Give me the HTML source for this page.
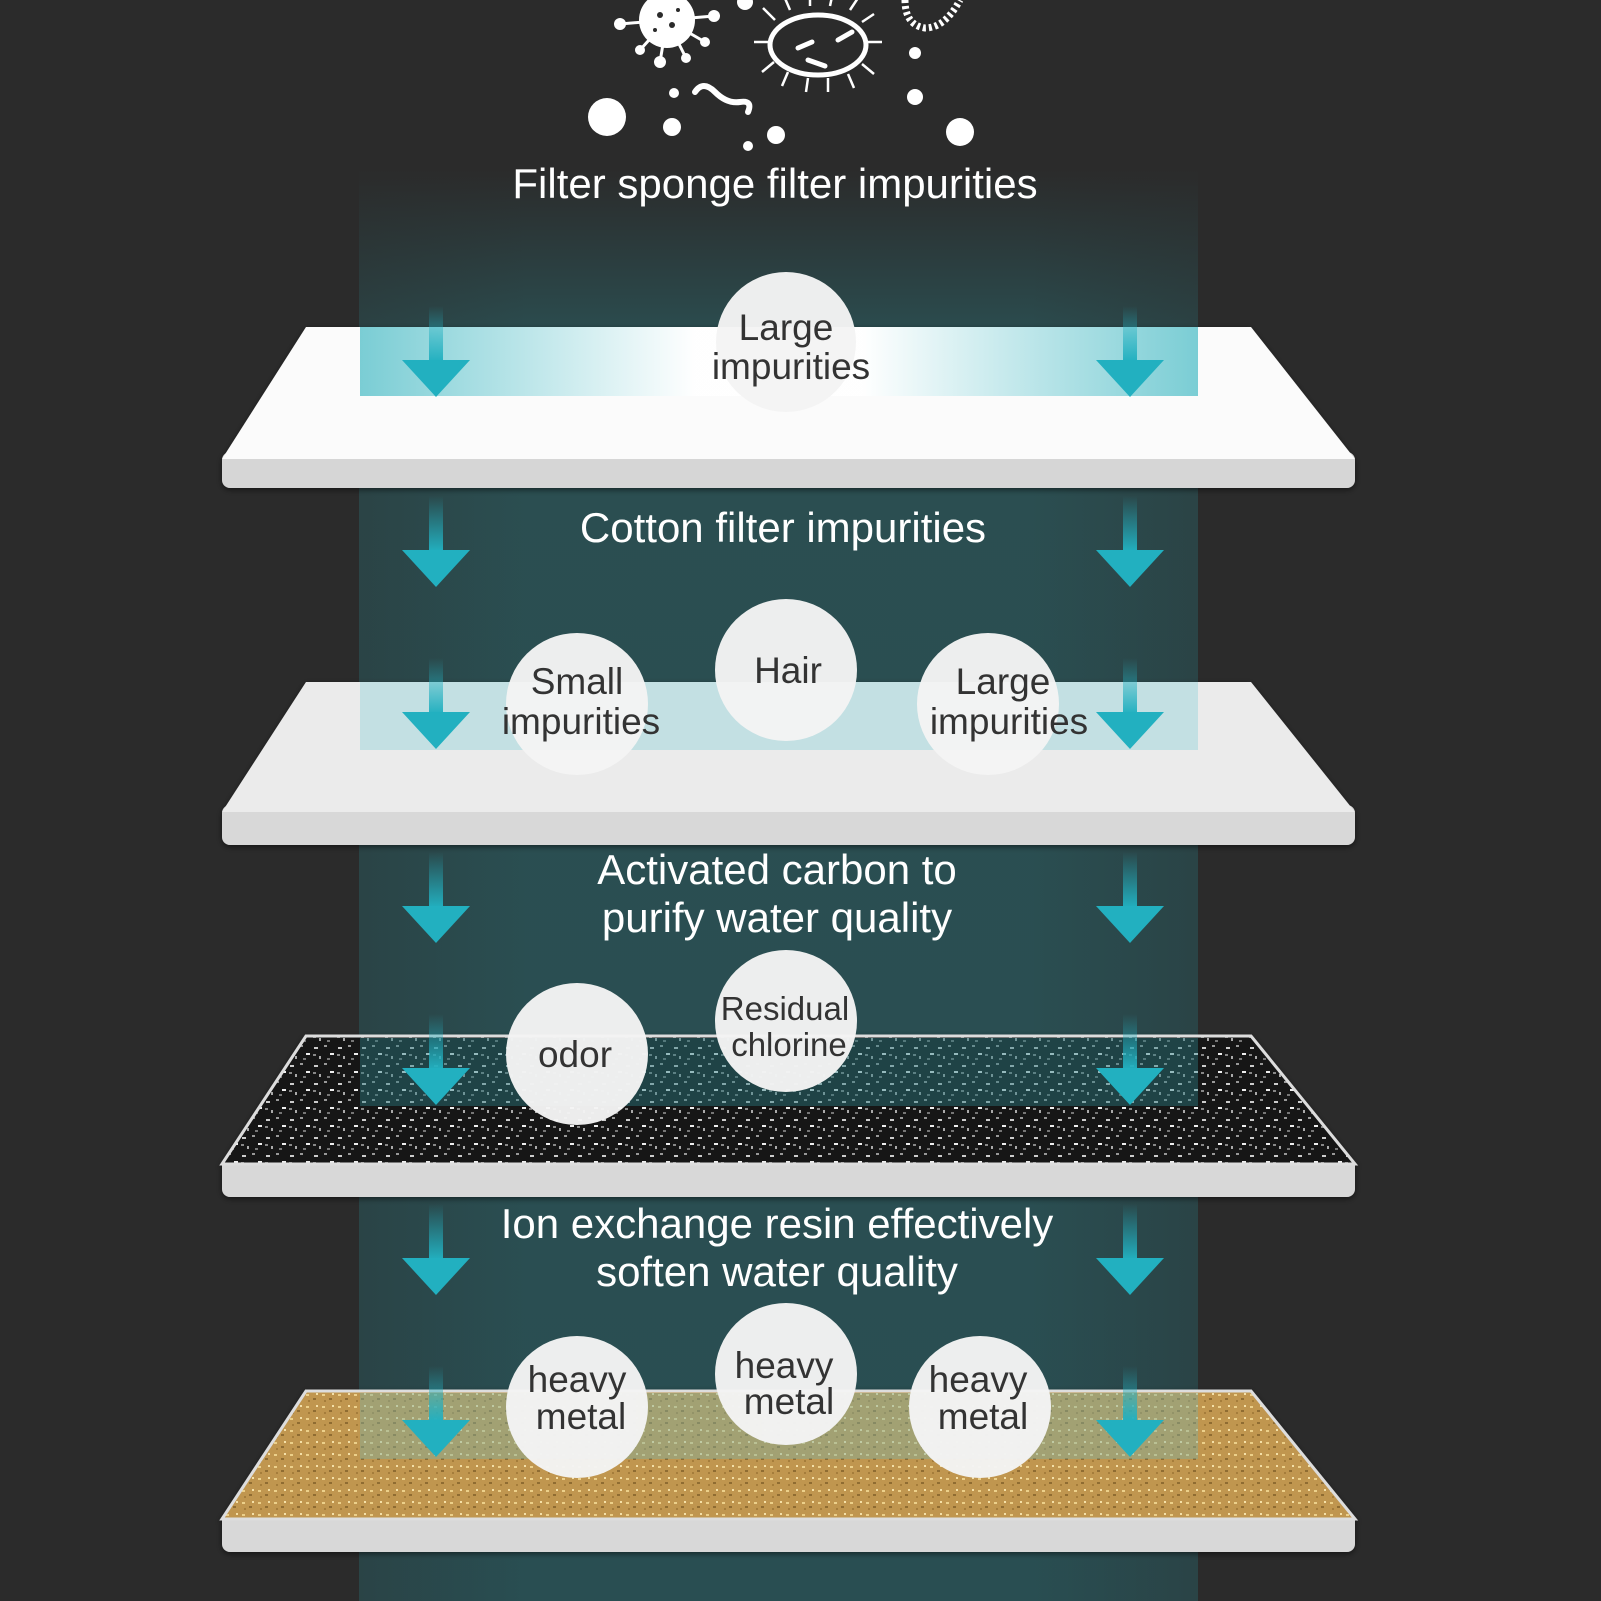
<!DOCTYPE html>
<html><head><meta charset="utf-8"><style>
html,body{margin:0;padding:0;background:#2b2b2b;}
svg{display:block}
text{font-family:"Liberation Sans",Arial,sans-serif}
</style></head><body>
<svg width="1601" height="1601" viewBox="0 0 1601 1601" xmlns="http://www.w3.org/2000/svg">
<defs>
<linearGradient id="col" x1="0" y1="0" x2="0" y2="1">
<stop offset="0" stop-color="#2b5255" stop-opacity="0"/>
<stop offset="0.12" stop-color="#2b5255" stop-opacity="0.9"/>
<stop offset="1" stop-color="#294e52" stop-opacity="1"/>
</linearGradient>
<linearGradient id="colh" x1="0" y1="0" x2="1" y2="0">
<stop offset="0" stop-color="#2b2b2b" stop-opacity="0.3"/>
<stop offset="0.2" stop-color="#2b2b2b" stop-opacity="0"/>
<stop offset="0.8" stop-color="#2b2b2b" stop-opacity="0"/>
<stop offset="1" stop-color="#2b2b2b" stop-opacity="0.3"/>
</linearGradient>
<linearGradient id="shaft" x1="0" y1="0" x2="0" y2="1">
<stop offset="0" stop-color="#22b0c0" stop-opacity="0"/>
<stop offset="1" stop-color="#22b0c0" stop-opacity="1"/>
</linearGradient>
<linearGradient id="glow" x1="0" y1="0" x2="1" y2="0">
<stop offset="0" stop-color="#6cc8d0"/>
<stop offset="0.4" stop-color="#ffffff"/>
<stop offset="0.6" stop-color="#ffffff"/>
<stop offset="1" stop-color="#6cc8d0"/>
</linearGradient>
<pattern id="carbon" width="24" height="18" patternUnits="userSpaceOnUse">
<rect width="24" height="18" fill="#151515"/>
<rect x="2" y="3" width="4" height="2" fill="#ccc"/>
<rect x="12" y="1" width="3" height="2" fill="#999"/>
<rect x="18" y="9" width="4" height="2" fill="#eee"/>
<rect x="7" y="12" width="2" height="3" fill="#aaa"/>
<rect x="15" y="14" width="3" height="2" fill="#777"/>
<rect x="1" y="10" width="3" height="2" fill="#888"/>
</pattern>
<pattern id="gold" width="16" height="12" patternUnits="userSpaceOnUse">
<rect width="16" height="12" fill="#c09650"/>
<rect x="2" y="2" width="3" height="2" fill="#ecd08a"/>
<rect x="9" y="6" width="3" height="2" fill="#8f6c30"/>
<rect x="12" y="1" width="2" height="2" fill="#f4e0a8"/>
<rect x="4" y="8" width="2" height="2" fill="#a57d3a"/>
</pattern>
<filter id="sh"><feDropShadow dx="0" dy="2" stdDeviation="3" flood-opacity="0.5"/></filter>
</defs>

<rect width="1601" height="1601" fill="#2b2b2b"/>

<g fill="#fff">
<circle cx="607" cy="117" r="19"/><circle cx="672" cy="127" r="9"/><circle cx="674" cy="93" r="5"/>
<circle cx="776" cy="135" r="9"/><circle cx="748" cy="146" r="5"/><circle cx="915" cy="53" r="6"/>
<circle cx="915" cy="97" r="8"/><circle cx="960" cy="132" r="14"/><circle cx="745" cy="2" r="8"/>
<circle cx="667" cy="20" r="28"/>
<g stroke="#fff" stroke-width="3">
<line x1="667" y1="20" x2="620" y2="24"/><line x1="667" y1="20" x2="714" y2="16"/>
<line x1="667" y1="20" x2="660" y2="62"/><line x1="667" y1="20" x2="686" y2="58"/>
<line x1="667" y1="20" x2="705" y2="42"/><line x1="667" y1="20" x2="640" y2="50"/>
</g>
<circle cx="620" cy="24" r="6"/><circle cx="714" cy="16" r="6"/><circle cx="660" cy="62" r="6"/>
<circle cx="686" cy="58" r="5"/><circle cx="705" cy="42" r="5"/><circle cx="640" cy="50" r="5"/>
</g>
<g fill="#2b2b2b"><circle cx="660" cy="15" r="3"/><circle cx="672" cy="25" r="3"/><circle cx="655" cy="30" r="2"/><circle cx="678" cy="10" r="2"/></g>
<path d="M695 92 q8 -12 20 0 t25 10 t8 10" fill="none" stroke="#fff" stroke-width="6" stroke-linecap="round"/>
<ellipse cx="818" cy="45" rx="48" ry="30" fill="none" stroke="#fff" stroke-width="5"/>
<g stroke="#fff" stroke-width="2.5" fill="none">
<path d="M775 20 l-12 -12 M790 10 l-6 -14 M810 6 v-14 M830 6 l3 -14 M850 10 l8 -12 M862 22 l12 -8 M868 42 h14 M862 64 l12 10 M848 74 l6 14 M828 78 v14 M808 78 l-2 14 M788 72 l-6 14 M774 62 l-12 10 M768 42 h-14"/>
</g>
<g stroke="#fff" stroke-width="5" stroke-linecap="round"><line x1="798" y1="48" x2="812" y2="42"/><line x1="808" y1="60" x2="825" y2="66"/><line x1="838" y1="40" x2="852" y2="32"/></g>
<path d="M905 0 q0 25 20 28 q20 0 35 -28" fill="none" stroke="#fff" stroke-width="7" stroke-dasharray="3 3"/>

<rect x="359" y="170" width="839" height="1431" fill="url(#col)"/>
<rect x="359" y="170" width="839" height="1431" fill="url(#colh)"/>

<g filter="url(#sh)">
<rect x="222" y="452" width="1133" height="36" rx="8" fill="#d6d6d6"/>
<path d="M306 327 H1251 L1355 459 H222 Z" fill="#fbfbfb"/>
</g>
<rect x="360" y="327" width="838" height="69" fill="url(#glow)" opacity="0.9"/>
<g filter="url(#sh)">
<rect x="222" y="805" width="1133" height="40" rx="8" fill="#d8d8d8"/>
<path d="M306 682 H1251 L1355 812 H222 Z" fill="#ebebeb"/>
</g>
<rect x="360" y="682" width="838" height="68" fill="#a8d9dd" opacity="0.6"/>
<g filter="url(#sh)">
<rect x="222" y="1157" width="1133" height="40" rx="8" fill="#d8d8d8"/>
<path d="M306 1036 H1251 L1355 1164 H222 Z" fill="url(#carbon)" stroke="#ddd" stroke-width="3"/>
</g>
<rect x="360" y="1038" width="838" height="68" fill="#2a7a80" opacity="0.45"/>
<g filter="url(#sh)">
<rect x="222" y="1512" width="1133" height="40" rx="8" fill="#d8d8d8"/>
<path d="M306 1391 H1251 L1355 1519 H222 Z" fill="url(#gold)" stroke="#ddd" stroke-width="3"/>
</g>
<rect x="360" y="1393" width="838" height="66" fill="#7fb0a0" opacity="0.45"/>

<g id="arr">
<rect x="429" y="306" width="14" height="56" fill="url(#shaft)"/>
<path d="M402 360 H470 L436 397 Z" fill="#22b0c0"/>
</g>
<use href="#arr" x="694"/>
<use href="#arr" y="190"/><use href="#arr" x="694" y="190"/>
<use href="#arr" y="352"/><use href="#arr" x="694" y="352"/>
<use href="#arr" y="546"/><use href="#arr" x="694" y="546"/>
<use href="#arr" y="708"/><use href="#arr" x="694" y="708"/>
<use href="#arr" y="898"/><use href="#arr" x="694" y="898"/>
<use href="#arr" y="1060"/><use href="#arr" x="694" y="1060"/>

<g fill="#f4f4f4" opacity="0.97">
<circle cx="786" cy="342" r="70"/>
<circle cx="577" cy="704" r="71"/><circle cx="786" cy="670" r="71"/><circle cx="988" cy="704" r="71"/>
<circle cx="577" cy="1054" r="71"/><circle cx="786" cy="1021" r="71"/>
<circle cx="577" cy="1407" r="71"/><circle cx="786" cy="1374" r="71"/><circle cx="980" cy="1407" r="71"/>
</g>

<g fill="#fff" font-size="42" text-anchor="middle">
<text x="775" y="198">Filter sponge filter impurities</text>
<text x="783" y="542">Cotton filter impurities</text>
<text x="777" y="884">Activated carbon to</text>
<text x="777" y="932">purify water quality</text>
<text x="777" y="1238">Ion exchange resin effectively</text>
<text x="777" y="1286">soften water quality</text>
</g>
<g fill="#333" font-size="37" text-anchor="middle">
<text x="786" y="340">Large</text><text x="791" y="379">impurities</text>
<text x="577" y="694">Small</text><text x="581" y="734">impurities</text>
<text x="788" y="683">Hair</text>
<text x="1003" y="694">Large</text><text x="1009" y="734">impurities</text>
<text x="575" y="1067">odor</text>
<text x="785" y="1020" font-size="33">Residual</text><text x="789" y="1056" font-size="33">chlorine</text>
<text x="577" y="1392">heavy</text><text x="581" y="1429">metal</text>
<text x="784" y="1378">heavy</text><text x="789" y="1414">metal</text>
<text x="978" y="1392">heavy</text><text x="983" y="1429">metal</text>
</g>
</svg>
</body></html>
